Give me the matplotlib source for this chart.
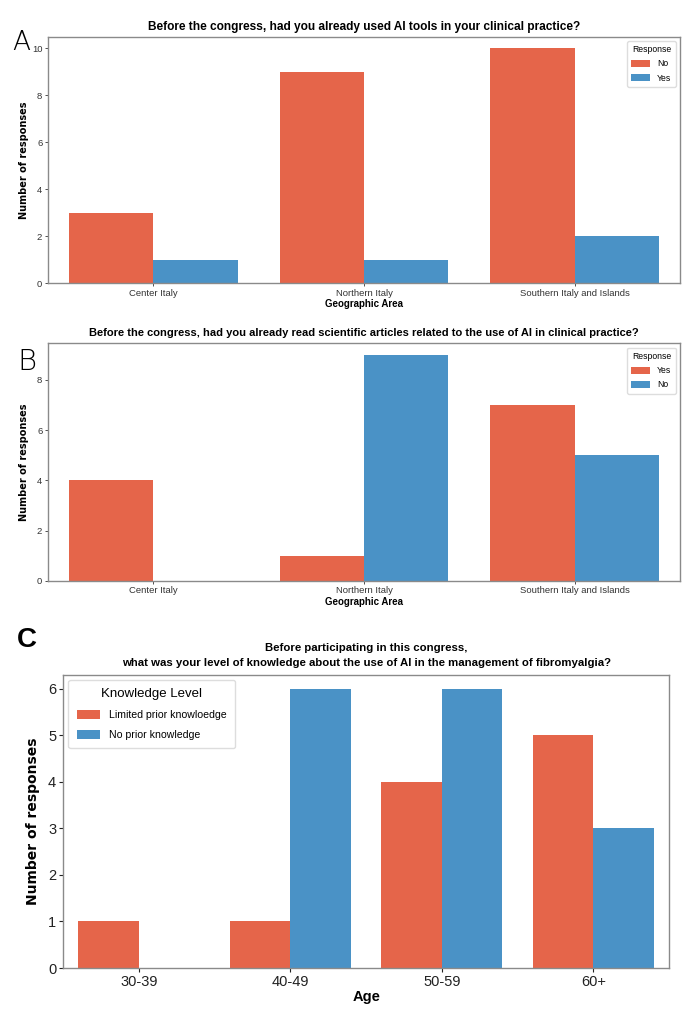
import numpy as np
import matplotlib
matplotlib.use("Agg")
from matplotlib import pyplot as plt

# data
areas = ["Center Italy", "Northern Italy", "Southern Italy and Islands"]
used_no = [3, 9, 10]
used_yes = [1, 1, 2]

read_yes = [4, 1, 7]
read_no = [0, 9, 5]

ages = ["30-39", "40-49", "50-59", "60+"]
limited_prior = [1, 1, 4, 5]
no_prior = [0, 6, 6, 3]

orange = "#E5654A"
blue = "#4A92C6"
spine_col = "#8a8a8a"

plt.rcParams["font.family"] = ["Liberation Sans", "DejaVu Sans"]

fig = plt.figure(figsize=(6.94, 10.19), dpi=100)


def grouped(ax, cats, first, second, labels, width=0.4):
    x = np.arange(len(cats))
    ax.bar(x - width / 2, first, width, color=orange, label=labels[0])
    ax.bar(x + width / 2, second, width, color=blue, label=labels[1])
    ax.set_xticks(x)
    ax.set_xticklabels(cats)
    ax.set_xlim(-0.5, len(cats) - 0.5)
    ymax = max(max(first), max(second))
    ax.set_ylim(0, ymax * 1.05)
    for s in ax.spines.values():
        s.set_color(spine_col)
        s.set_linewidth(1.0)
    return ax


# panel A
axA = fig.add_axes([0.069, 0.722, 0.911, 0.242])
grouped(axA, areas, used_no, used_yes, ["No", "Yes"])
axA.set_yticks([0, 2, 4, 6, 8, 10])
axA.tick_params(labelsize=6.8, length=2, width=0.6, colors="#333333", pad=2)
axA.set_title("Before the congress, had you already used AI tools in your clinical practice?",
              fontsize=8.6, fontweight="bold", pad=5)
axA.set_xlabel("Geographic Area", fontsize=7, fontweight="bold", labelpad=1)
axA.set_ylabel("Number of responses", fontsize=7, fontweight="bold",
               family="DejaVu Sans", labelpad=2)
axA.legend(title="Response", loc="upper right", fontsize=6.2, title_fontsize=6.2,
           handlelength=2.2, handleheight=0.9, framealpha=1, edgecolor="#dddddd",
           borderpad=0.5, labelspacing=0.6)
fig.text(0.018, 0.958, "A", fontsize=19, family="DejaVu Sans", fontweight="light",
         ha="left", va="center")

# panel B
axB = fig.add_axes([0.069, 0.430, 0.911, 0.233])
grouped(axB, areas, read_yes, read_no, ["Yes", "No"])
axB.set_yticks([0, 2, 4, 6, 8])
axB.tick_params(labelsize=6.8, length=2, width=0.6, colors="#333333", pad=2)
axB.set_title("Before the congress, had you already read scientific articles related to the use of AI in clinical practice?",
              fontsize=8.0, fontweight="bold", pad=5)
axB.set_xlabel("Geographic Area", fontsize=7, fontweight="bold", labelpad=1)
axB.set_ylabel("Number of responses", fontsize=7, fontweight="bold",
               family="DejaVu Sans", labelpad=6)
axB.legend(title="Response", loc="upper right", fontsize=6.2, title_fontsize=6.2,
           handlelength=2.2, handleheight=0.9, framealpha=1, edgecolor="#dddddd",
           borderpad=0.5, labelspacing=0.6)
fig.text(0.025, 0.645, "B", fontsize=21, family="DejaVu Sans", fontweight="light",
         ha="left", va="center")

# panel C
axC = fig.add_axes([0.091, 0.050, 0.873, 0.288])
grouped(axC, ages, limited_prior, no_prior,
        ["Limited prior knowloedge", "No prior knowledge"])
axC.set_ylim(0, 6.3)
axC.set_yticks(range(7))
axC.tick_params(labelsize=10.5, length=3, width=0.8, colors="#222222", pad=2)
axC.set_title("Before participating in this congress,\n"
              "what was your level of knowledge about the use of AI in the management of fibromyalgia?",
              fontsize=8.2, fontweight="bold", pad=6, linespacing=1.7)
axC.set_xlabel("Age", fontsize=10.5, fontweight="bold", labelpad=1)
axC.set_ylabel("Number of responses", fontsize=10, fontweight="bold",
               family="DejaVu Sans", labelpad=6)
axC.legend(title="Knowledge Level", loc="upper left", fontsize=7.6, title_fontsize=9.5,
           handlelength=2.2, handleheight=1.0, framealpha=1, edgecolor="#dddddd",
           borderpad=0.8, labelspacing=0.9)
fig.text(0.025, 0.372, "C", fontsize=20, fontweight="bold", ha="left", va="center")

fig.savefig("out.png", dpi=100)
